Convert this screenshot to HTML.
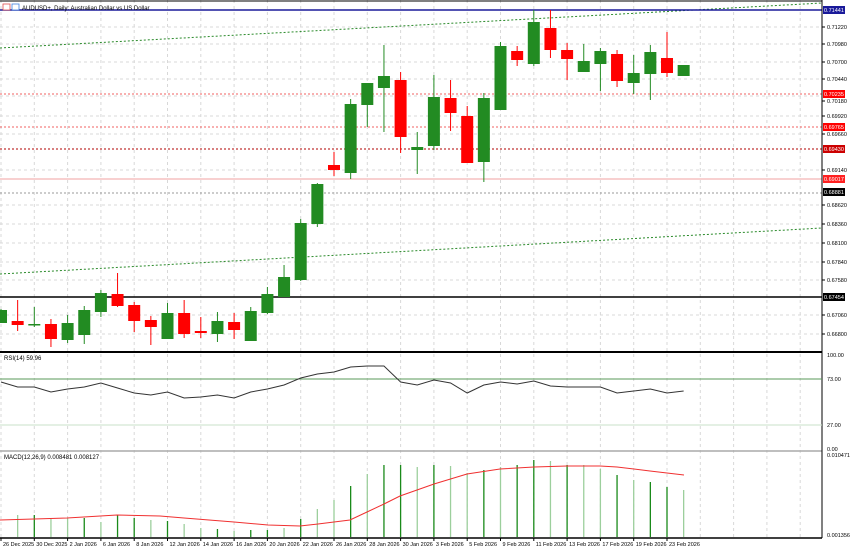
<!DOCTYPE html>
<html><head><meta charset="utf-8"><style>
html,body{margin:0;padding:0;background:#fff;width:850px;height:550px;overflow:hidden}
svg{display:block;font-family:"Liberation Sans",sans-serif}
</style></head><body>
<svg id="s" width="850" height="550" viewBox="0 0 850 550" xmlns="http://www.w3.org/2000/svg"></svg>
<script>
const s=document.getElementById('s');let h='';
const X=i=>1+16.65*i;
// grid vertical
for(let i=0;i<50;i+=2){const x=X(i);h+=`<line x1="${x}" y1="0" x2="${x}" y2="537" stroke="#d8d8d8" stroke-dasharray="3,3"/>`;}
const py=[27,44,62,79,96,116,134,170,205,224,243,262,280,315,334];
py.forEach(y=>h+=`<line x1="0" y1="${y}" x2="822" y2="${y}" stroke="#d8d8d8" stroke-dasharray="3,3"/>`);
// trendlines
h+=`<line x1="0" y1="48" x2="822" y2="3" stroke="#2a8a2a" stroke-dasharray="2,2"/>`;
h+=`<line x1="0" y1="274" x2="822" y2="228" stroke="#2a8a2a" stroke-dasharray="2,2"/>`;
// horizontal levels
h+=`<line x1="0" y1="10" x2="822" y2="10" stroke="#1a1a9a" stroke-width="1.5"/>`;
h+=`<line x1="0" y1="94" x2="822" y2="94" stroke="#f06060" stroke-dasharray="2,2"/>`;
h+=`<line x1="0" y1="127" x2="822" y2="127" stroke="#f06060" stroke-dasharray="2,2"/>`;
h+=`<line x1="0" y1="149" x2="822" y2="149" stroke="#b00000" stroke-dasharray="2,2"/>`;
h+=`<line x1="0" y1="179" x2="822" y2="179" stroke="#f0a0a0"/>`;
h+=`<line x1="0" y1="193" x2="822" y2="193" stroke="#999" stroke-dasharray="2,2"/>`;
h+=`<line x1="0" y1="297" x2="822" y2="297" stroke="#000" stroke-width="1.5"/>`;
// candles: [bodyTop,bodyBot,high,low,green?]
const C=[[310,323,309,323,1],[321,325,300,331,0],[324,325,307,327,1],[324,339,319,347,0],[323,340,315,343,1],[310,335,306,344,1],[293,312,290,317,1],[294,306,273,307,0],[305,321,302,332,0],[320,327,316,345,0],[313,339,303,339,1],[313,334,300,338,0],[331,333,317,338,0],[321,334,312,342,1],[322,330,313,339,0],[311,341,307,341,1],[294,313,287,314,1],[277,297,265,297,1],[223,280,219,281,1],[184,224,183,227,1],[165,170,152,176,0],[104,173,99,179,1],[83,105,83,127,1],[76,88,45,132,1],[80,137,72,153,0],[147,150,132,174,1],[97,146,75,150,1],[98,113,80,131,0],[116,163,106,163,0],[98,162,93,182,1],[46,110,42,110,1],[51,60,46,66,0],[22,64,10,66,1],[28,50,10,58,0],[50,59,43,80,0],[61,72,44,72,1],[51,64,48,91,1],[54,81,50,87,0],[73,83,55,94,1],[52,74,45,100,1],[58,73,32,77,0],[65,76,65,76,1]];
C.forEach((c,i)=>{const x=X(i),col=c[4]?'#228B22':'#FF0000';
h+=`<line x1="${x}" y1="${c[2]}" x2="${x}" y2="${c[3]}" stroke="${col}" stroke-width="1"/>`;
h+=`<rect x="${x-6}" y="${c[0]}" width="12" height="${Math.max(1.5,c[1]-c[0])}" fill="${col}"/>`;});
// panel separators
h+=`<line x1="0" y1="1" x2="822" y2="1" stroke="#000"/>`;
h+=`<line x1="0" y1="352" x2="822" y2="352" stroke="#000" stroke-width="2"/>`;
h+=`<line x1="0" y1="451" x2="822" y2="451" stroke="#aaa" stroke-width="1.5"/>`;
h+=`<line x1="0" y1="538" x2="822" y2="538" stroke="#000" stroke-width="1.5"/>`;
h+=`<line x1="822" y1="0" x2="822" y2="538" stroke="#000"/>`;
// RSI
h+=`<line x1="0" y1="379" x2="822" y2="379" stroke="#5a9a5a"/>`;
h+=`<line x1="0" y1="425" x2="822" y2="425" stroke="#c8e0c8"/>`;
const R=[382,387,387,392,389,387,383,388,393,395,392,398,397,395,398,392,389,385,378,374,372,367,366,366,382,385,380,383,393,385,382,384,381,386,387,387,387,393,391,389,393,391];
h+=`<polyline fill="none" stroke="#333" stroke-width="1" points="${R.map((y,i)=>X(i)+','+y).join(' ')}"/>`;
h+=`<text x="4" y="360" font-size="6" fill="#000">RSI(14) 59.96</text>`;
// MACD
const M=[0,515,515,519,518,518,522,515,518,520,521,524,528,529,531,530,530,528,519,509,500,486,474,465,465,467,465,466,473,470,467,465,460,461,465,465,469,475,480,482,487,490];
const dark=[0,0,1,0,0,1,0,1,1,0,1,0,0,1,0,1,1,0,1,0,0,1,0,1,1,0,1,0,0,1,0,1,1,0,1,0,0,1,0,1,1,0];
M.forEach((y,i)=>{if(!y)return;const x=X(i);h+=`<line x1="${x}" y1="${y}" x2="${x}" y2="537" stroke="${dark[i]?'#1a8a1a':'#9ccf9c'}" stroke-width="1.3"/>`;});
const S=[[0,520],[34,519],[67,518],[117,515],[160,516],[184,518],[234,522],[268,525],[300,526],[318,524],[334,522],[350,520],[367,512],[384,504],[400,496],[434,484],[467,474],[500,469],[534,467],[567,466],[600,466],[617,467],[650,471],[684,475]];
h+=`<polyline fill="none" stroke="#f03030" stroke-width="1" points="${S.map(p=>p.join(',')).join(' ')}"/>`;
h+=`<text x="4" y="459" font-size="6" fill="#000">MACD(12,26,9) 0.008481 0.008127</text>`;
// title
h+=`<rect x="3" y="4" width="7" height="6" fill="#fff" stroke="#e05050" stroke-width="0.8"/><rect x="12" y="4" width="7" height="6" fill="#fff" stroke="#4080e0" stroke-width="0.8"/>`;
h+=`<text x="22" y="10" font-size="6" fill="#000">AUDUSD+, Daily:  Australian Dollar vs US Dollar</text>`;
// right axis labels
const L=[[27,'0.71220'],[44,'0.70980'],[62,'0.70700'],[79,'0.70440'],[101,'0.70180'],[116,'0.69920'],[134,'0.69660'],[170,'0.69140'],[205,'0.68620'],[224,'0.68360'],[243,'0.68100'],[262,'0.67840'],[280,'0.67580'],[315,'0.67060'],[334,'0.66800']];
L.forEach(([y,t])=>{h+=`<line x1="822" y1="${y}" x2="825" y2="${y}" stroke="#000"/><text x="827" y="${y+2}" font-size="5.5" fill="#000">${t}</text>`;});
const B=[[10,'0.71441','#1a1a9a'],[94,'0.70235','#ff0000'],[127,'0.69765','#ff0000'],[149,'0.69430','#cc0000'],[179,'0.69017','#ff2020'],[192,'0.68881','#000'],[297,'0.67454','#000']];
B.forEach(([y,t,c])=>{h+=`<rect x="823" y="${y-4}" width="22" height="8" fill="${c}"/><text x="824" y="${y+2}" font-size="5.5" fill="#fff">${t}</text>`;});
[[355,'100.00'],[379,'73.00'],[425,'27.00'],[449,'0.00']].forEach(([y,t])=>h+=`<text x="827" y="${y+2}" font-size="5.5" fill="#000">${t}</text>`);
h+=`<text x="827" y="457" font-size="5.5" fill="#000">0.010471</text><text x="827" y="537" font-size="5.5" fill="#000">0.001356</text>`;
// dates
const D=['26 Dec 2025','30 Dec 2025','2 Jan 2026','6 Jan 2026','8 Jan 2026','12 Jan 2026','14 Jan 2026','16 Jan 2026','20 Jan 2026','22 Jan 2026','26 Jan 2026','28 Jan 2026','30 Jan 2026','3 Feb 2026','5 Feb 2026','9 Feb 2026','11 Feb 2026','13 Feb 2026','17 Feb 2026','19 Feb 2026','23 Feb 2026'];
D.forEach((t,k)=>{const x=X(2*k);h+=`<line x1="${x}" y1="538" x2="${x}" y2="541" stroke="#000"/><text x="${x+2}" y="546" font-size="5.5" fill="#000">${t}</text>`;});
s.innerHTML=h;
</script>
</body></html>
